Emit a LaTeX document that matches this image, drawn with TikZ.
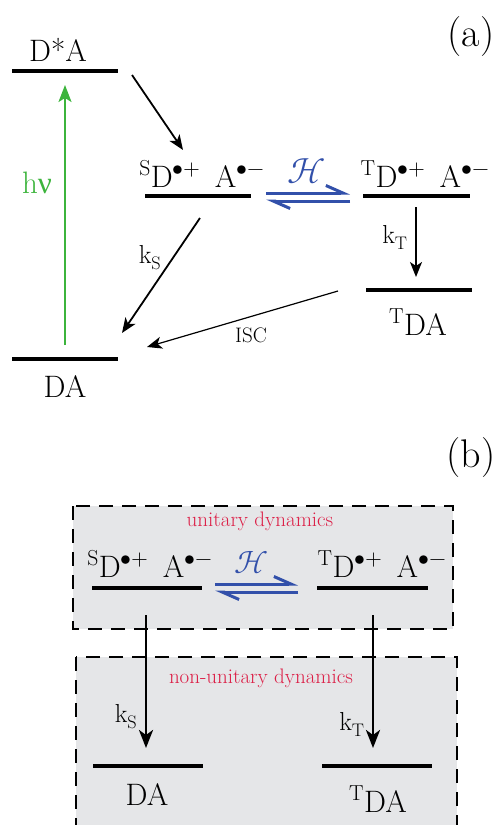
\documentclass[tikz,border=0pt]{standalone}
\usepackage{fontspec}
\usepackage{unicode-math}
\setmathfont{Latin Modern Math}
\newfontfamily\grkfont{Liberation Serif}
\usetikzlibrary{arrows.meta}
\definecolor{hgreen}{RGB}{60,180,60}
\definecolor{hblue}{RGB}{50,80,170}
\definecolor{hred}{RGB}{220,30,70}
\definecolor{hgray}{RGB}{229,230,232}
\newcommand{\rpS}{${}^{\mathrm{S}}$D$^{\bullet +}$\hspace{0.45em}A$^{\bullet -}$}
\newcommand{\rpT}{${}^{\mathrm{T}}$D$^{\bullet +}$\hspace{0.45em}A$^{\bullet -}$}
\begin{document}
\begin{tikzpicture}[x=1pt,y=-1pt,
  lvl/.style={line width=4pt},
  lab/.style={inner sep=0pt, anchor=base, font=\fontsize{31}{33}\selectfont},
  rate/.style={inner sep=0pt, anchor=base, font=\fontsize{26}{28}\selectfont},
  small/.style={inner sep=0pt, anchor=base, font=\fontsize{21}{23}\selectfont},
  dyn/.style={inner sep=0pt, anchor=base, text=hred, font=\fontsize{21}{23}\selectfont},
  panel/.style={inner sep=0pt, anchor=base, font=\fontsize{40}{42}\selectfont},
  arr/.style={line width=1.8pt, -{Stealth[length=15pt,width=12pt,inset=4pt]}},
  thinarr/.style={line width=1.2pt, -{Stealth[length=15pt,width=12pt,inset=4pt]}},
  bigarr/.style={line width=2.8pt, -{Stealth[length=18pt,width=14pt,inset=5pt]}},
  garr/.style={line width=2pt, draw=hgreen, -{Stealth[length=17pt,width=13pt,inset=4pt]}},
  harp/.style={line width=3pt, draw=hblue, -{Straight Barb[harpoon,length=17pt,width=15pt]}},
  boxst/.style={draw=black, fill=hgray, line width=1.3pt, dash pattern=on 14pt off 9pt}]
\useasboundingbox (0,0) rectangle (501,825);
\clip (0,0) rectangle (501,825);
% ---------- (a) ----------
\node[panel] (pa) at (471,46) {(a)};
\coordinate (dsL) at (12,71); \coordinate (dsR) at (118,71);
\draw[lvl] (dsL) -- (dsR);
\node[lab] (tds) at (58,61) {D*A};
\coordinate (daL) at (12,359); \coordinate (daR) at (118,359);
\draw[lvl] (daL) -- (daR);
\node[lab] (tda) at (65,397) {DA};
\coordinate (g1) at (65,345); \coordinate (g2) at (65,85);
\draw[garr] (g1) -- (g2);
\node[lab, text=hgreen] (hnu) at (37,193) {h{\grkfont ν}};
\coordinate (sL) at (145,196); \coordinate (sR) at (251,196);
\draw[lvl] (sL) -- (sR);
\node[lab] (ts) at (202,187) {\rpS};
\coordinate (tL) at (363,196); \coordinate (tR) at (470,196);
\draw[lvl] (tL) -- (tR);
\node[lab] (tt) at (425,187) {\rpT};
\coordinate (e1) at (132,75); \coordinate (e2) at (183,150);
\draw[arr] (e1) -- (e2);
\node[inner sep=0pt, anchor=base, text=hblue, font=\fontsize{36}{38}\selectfont] (Ha) at (307,183) {$\mathcal{H}$};
\coordinate (h1) at (266,193); \coordinate (h2) at (350,193);
\coordinate (h3) at (350,201); \coordinate (h4) at (266,201);
\draw[harp] (h1) -- (h2);
\draw[harp] (h3) -- (h4);
\coordinate (ks1) at (200,218); \coordinate (ks2) at (122,333);
\draw[arr] (ks1) -- (ks2);
\node[rate] (kSa) at (150,263) {k$_{\mathrm{S}}$};
\coordinate (kt1) at (416,207); \coordinate (kt2) at (416,277);
\draw[arr] (kt1) -- (kt2);
\node[rate] (kTa) at (395,243) {k$_{\mathrm{T}}$};
\coordinate (tdL) at (366,290); \coordinate (tdR) at (472,290);
\draw[lvl] (tdL) -- (tdR);
\node[lab] (ttd) at (418,335) {${}^{\mathrm{T}}$DA};
\coordinate (i1) at (338,291); \coordinate (i2) at (147,347);
\draw[thinarr] (i1) -- (i2);
\node[small] (isc) at (251,342) {ISC};
% ---------- (b) ----------
\node[panel] (pb) at (471,467) {(b)};
\draw[boxst] (73,506) rectangle (453,629);
\draw[boxst] (76,657) rectangle (457,840);
\node[dyn] (ud) at (260,526) {unitary dynamics};
\node[dyn] (nud) at (261,683) {non-unitary dynamics};
\coordinate (bsL) at (92,588); \coordinate (bsR) at (202,588);
\draw[lvl] (bsL) -- (bsR);
\node[lab] (bts) at (150,577) {\rpS};
\coordinate (btL) at (317,588); \coordinate (btR) at (428,588);
\draw[lvl] (btL) -- (btR);
\node[lab] (btt) at (382,577) {\rpT};
\node[inner sep=0pt, anchor=base, text=hblue, font=\fontsize{32}{34}\selectfont] (Hb) at (252,573) {$\mathcal{H}$};
\coordinate (bh1) at (215,584); \coordinate (bh2) at (298,584);
\coordinate (bh3) at (298,592); \coordinate (bh4) at (215,592);
\draw[harp] (bh1) -- (bh2);
\draw[harp] (bh3) -- (bh4);
\coordinate (bks1) at (146,615); \coordinate (bks2) at (146,748);
\draw[bigarr] (bks1) -- (bks2);
\node[rate] (kSb) at (126,722) {k$_{\mathrm{S}}$};
\coordinate (bkt1) at (373,615); \coordinate (bkt2) at (373,748);
\draw[bigarr] (bkt1) -- (bkt2);
\node[rate] (kTb) at (352,730) {k$_{\mathrm{T}}$};
\coordinate (bdL) at (93,766); \coordinate (bdR) at (203,766);
\draw[lvl] (bdL) -- (bdR);
\node[lab] (bda) at (147,805) {DA};
\coordinate (btdL) at (322,766); \coordinate (btdR) at (432,766);
\draw[lvl] (btdL) -- (btdR);
\node[lab] (btda) at (378,812) {${}^{\mathrm{T}}$DA};
\end{tikzpicture}
\end{document}
